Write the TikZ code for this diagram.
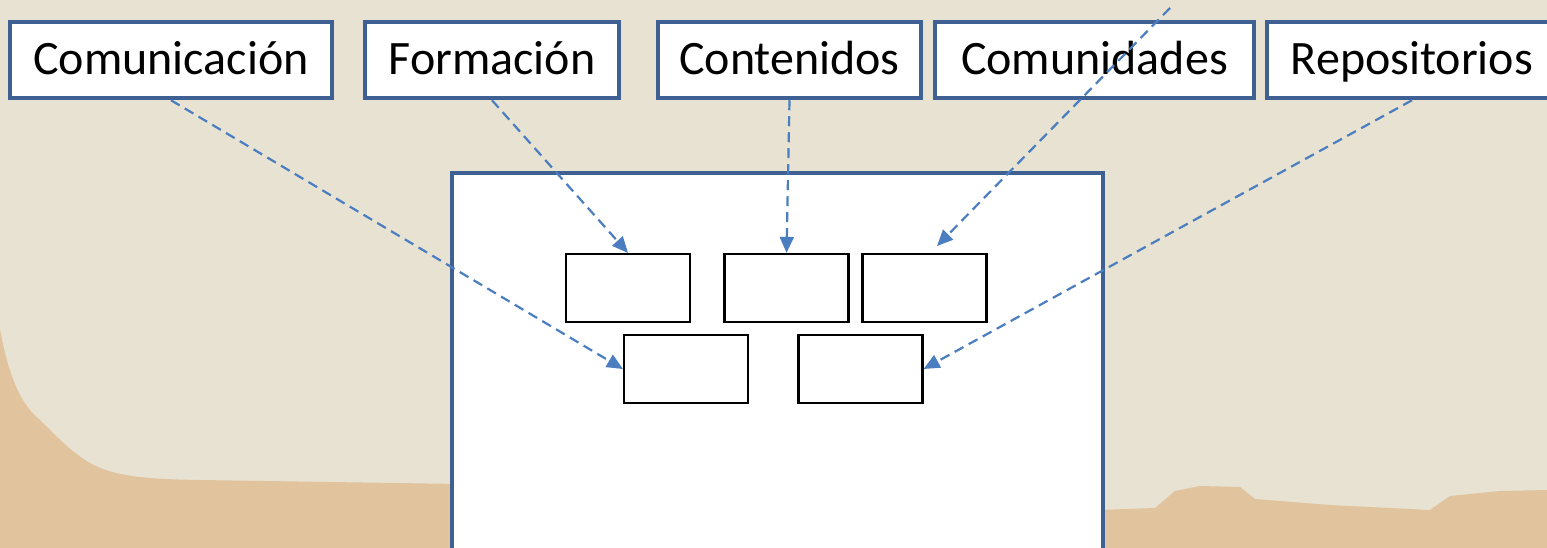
\documentclass[tikz,border=0pt]{standalone}
\usepackage{fontspec}
\setmainfont{Carlito}
\usetikzlibrary{arrows.meta}
\definecolor{bgA}{RGB}{231,226,210}
\definecolor{bgB}{RGB}{225,195,158}
\definecolor{frameblue}{RGB}{62,96,146}
\definecolor{arrowblue}{RGB}{74,126,192}
\begin{document}
\begin{tikzpicture}[x=1pt,y=-1pt,
  labelbox/.style={draw=frameblue, line width=4.5pt, fill=white, minimum height=76pt,
    inner sep=0pt, text height=40pt, text depth=10pt,
    font=\fontsize{48}{52}\selectfont, text=black},
  bigbox/.style={draw=frameblue, line width=4.5pt, fill=white, inner sep=0pt},
  smallbox/.style={draw=black, line width=2.2pt, fill=white, minimum width=124pt,
    minimum height=68pt, inner sep=0pt},
  conn/.style={draw=arrowblue, line width=2.2pt, dash pattern=on 10pt off 6pt,
    -{Triangle[length=16pt,width=14pt]}}]
\useasboundingbox (0,0) rectangle (1547,548);
% background
\fill[bgA] (0,0) rectangle (1547,548);
\fill[bgB] (0,330) .. controls (6,360) and (15,400) .. (40,420)
  .. controls (60,440) and (70,450) .. (85,460)
  .. controls (110,476) and (140,479) .. (200,480) -- (460,484) -- (460,548) -- (0,548) -- cycle;
\fill[bgB] (1100,510) -- (1155,508) -- (1175,491) -- (1200,486) -- (1240,487) -- (1255,499)
  -- (1330,505) -- (1430,510) -- (1450,496) -- (1500,491) -- (1547,490) -- (1547,548) -- (1100,548) -- cycle;
% main box
\node[bigbox, minimum width=651pt, minimum height=420pt] (main) at (777.5,383) {};
% small boxes
\node[smallbox] (A) at (628,288) {};
\node[smallbox] (B) at (786.5,288) {};
\node[smallbox] (C) at (924.5,288) {};
\node[smallbox] (D) at (686,369) {};
\node[smallbox] (E) at (860.5,369) {};
% label boxes
\node[labelbox, minimum width=322pt] (com) at (171,60) {Comunicación};
\node[labelbox, minimum width=254pt] (form) at (492,60) {Formación};
\node[labelbox, minimum width=263pt] (cont) at (789.5,60) {Contenidos};
\node[labelbox, minimum width=319pt] (comu) at (1094.5,60) {Comunidades};
\node[labelbox, minimum width=290pt] (rep) at (1412,60) {Repositorios};
% connectors
\coordinate (comuStart) at (1170,8);
\coordinate (Ctip) at (937,246);
\draw[conn] (com.south) -- (D.west);
\draw[conn] (form.south) -- (A.north);
\draw[conn] (cont.south) -- (B.north);
\draw[conn] (comuStart) -- (Ctip);
\draw[conn] (rep.south) -- (E.east);
\end{tikzpicture}
\end{document}
